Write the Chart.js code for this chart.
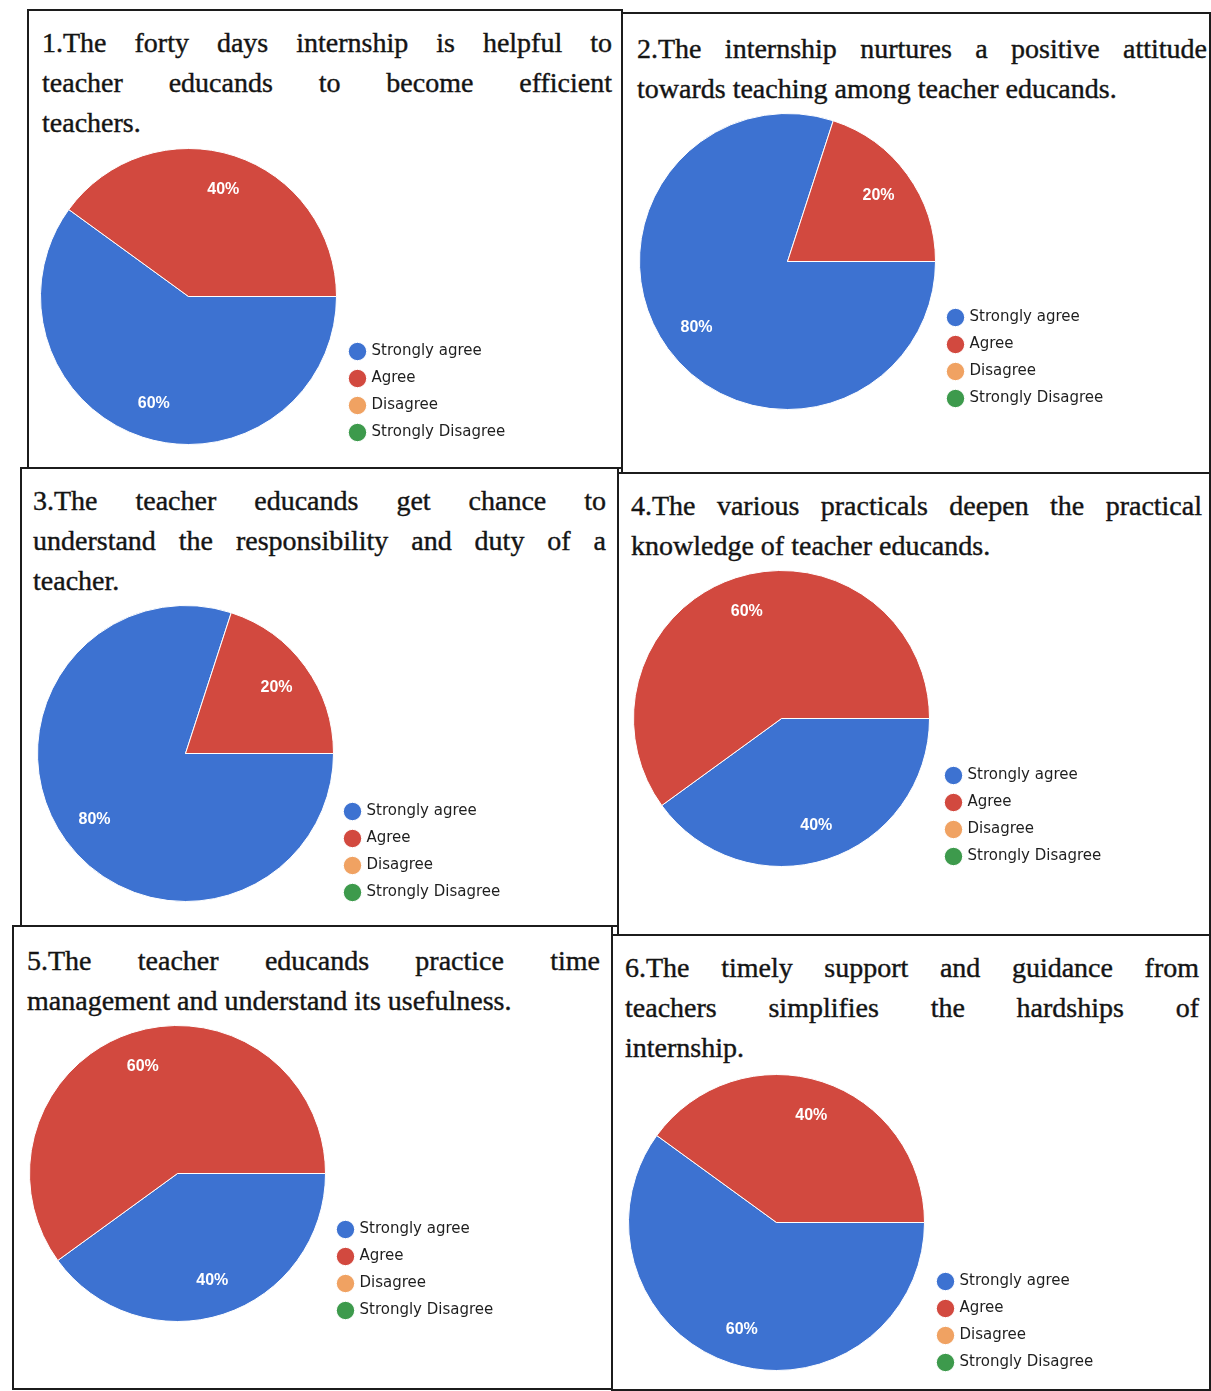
<!DOCTYPE html>
<html>
<head>
<meta charset="utf-8">
<script src="https://cdn.jsdelivr.net/npm/chart.js@4/dist/chart.umd.min.js"></script>
<style>
  html, body { margin: 0; padding: 0; background: #fff; }
  body { width: 1211px; height: 1391px; position: relative; overflow: hidden; }
  .cell { position: absolute; border: 2px solid #1c1c1c; box-sizing: border-box; }
  .title { position: absolute; font-family: "Liberation Serif", "Times New Roman", serif; font-size: 28px; line-height: 40px; color: #141414; -webkit-text-stroke: 0.4px #141414; }
  .title div { white-space: nowrap; }
  .title div.j { text-align: justify; text-align-last: justify; white-space: normal; }
  canvas { position: absolute; }
</style>
</head>
<body>
<script>
// ---------- data ----------
const categories = ["Strongly agree", "Agree", "Disagree", "Strongly Disagree"];
const q1Values = [60, 40, 0, 0];
const q2Values = [80, 20, 0, 0];
const q3Values = [80, 20, 0, 0];
const q4Values = [40, 60, 0, 0];
const q5Values = [40, 60, 0, 0];
const q6Values = [60, 40, 0, 0];
const q1Title = ["1.The forty days internship is helpful to", "teacher educands to become efficient", "teachers."];
const q2Title = ["2.The internship nurtures a positive attitude", "towards teaching among teacher educands."];
const q3Title = ["3.The teacher educands get chance to", "understand the responsibility and duty of a", "teacher."];
const q4Title = ["4.The various practicals deepen the practical", "knowledge of teacher educands."];
const q5Title = ["5.The teacher educands practice time", "management and understand its usefulness."];
const q6Title = ["6.The timely support and guidance from", "teachers simplifies the hardships of", "internship."];

// ---------- styles / layout ----------
const sliceColors = ["#3d72d1", "#d2493f", "#f0a262", "#3d9a4c"];
const panels = [
  { values: q1Values, title: q1Title, cell: [27, 9, 623, 469],   text: [42, 23, 570],  pie: [188, 296], legend: [357, 432] },
  { values: q2Values, title: q2Title, cell: [621, 12, 1211, 474], text: [637, 29, 570], pie: [787, 261], legend: [955, 398] },
  { values: q3Values, title: q3Title, cell: [20, 467, 619, 927],  text: [33, 481, 573], pie: [185, 753], legend: [352, 892] },
  { values: q4Values, title: q4Title, cell: [617, 472, 1211, 936], text: [631, 486, 571], pie: [781, 718], legend: [953, 856] },
  { values: q5Values, title: q5Title, cell: [12, 925, 613, 1390], text: [27, 941, 573], pie: [177, 1173], legend: [345, 1310] },
  { values: q6Values, title: q6Title, cell: [611, 934, 1211, 1391], text: [625, 948, 574], pie: [776, 1222], legend: [945, 1362] }
];

const FONT = 15, PAD = 12, BOX = 13, LEGW = 200, R = 148;

const pctLabels = {
  id: 'pctLabels',
  afterDatasetsDraw(chart) {
    const ctx = chart.ctx;
    const meta = chart.getDatasetMeta(0);
    const data = chart.data.datasets[0].data;
    const total = data.reduce((a, b) => a + b, 0);
    ctx.save();
    ctx.fillStyle = '#ffffff';
    ctx.font = 'bold 16px "Liberation Sans", Arial, sans-serif';
    ctx.textAlign = 'center';
    ctx.textBaseline = 'middle';
    meta.data.forEach((arc, i) => {
      if (!data[i]) return;
      const p = arc.getProps(['x', 'y', 'startAngle', 'endAngle', 'outerRadius'], true);
      const mid = (p.startAngle + p.endAngle) / 2;
      const rr = p.outerRadius * 0.76;
      ctx.fillText(Math.round(data[i] / total * 100) + '%', p.x + Math.cos(mid) * rr, p.y + Math.sin(mid) * rr);
    });
    ctx.restore();
  }
};

const fixedLegend = {
  id: 'fixedLegend',
  afterInit(chart) {
    const lg = chart.legend;
    if (!lg) return;
    const orig = lg.fit;
    lg.fit = function () { orig.call(this); this.width = LEGW; };
  }
};

panels.forEach((p) => {
  const [l, t, r, b] = p.cell;
  const cell = document.createElement('div');
  cell.className = 'cell';
  Object.assign(cell.style, { left: l + 'px', top: t + 'px', width: (r - l) + 'px', height: (b - t) + 'px' });
  document.body.appendChild(cell);

  const tt = document.createElement('div');
  tt.className = 'title';
  Object.assign(tt.style, { left: p.text[0] + 'px', top: p.text[1] + 'px', width: p.text[2] + 'px' });
  p.title.forEach((line, i) => {
    const d = document.createElement('div');
    d.textContent = line;
    if (i < p.title.length - 1) d.className = 'j';
    tt.appendChild(d);
  });
  document.body.appendChild(tt);

  const [cx, cy] = p.pie;
  const A = p.legend[0] - cx - PAD - BOX / 2;
  const B = p.legend[1] + (FONT + PAD) - FONT / 2 - cy;
  const cv = document.createElement('canvas');
  cv.width = Math.round(2 * A + LEGW);
  cv.height = Math.round(2 * B);
  cv.style.left = (cx - A) + 'px';
  cv.style.top = (cy - B) + 'px';
  document.body.appendChild(cv);

  new Chart(cv, {
    type: 'pie',
    data: {
      labels: categories,
      datasets: [{ data: p.values, backgroundColor: sliceColors, borderColor: '#ffffff', borderWidth: 1 }]
    },
    options: {
      responsive: false,
      animation: false,
      rotation: 90,
      radius: R,
      layout: { padding: 0 },
      plugins: {
        tooltip: { enabled: false },
        legend: {
          position: 'right',
          align: 'end',
          labels: {
            usePointStyle: true,
            pointStyle: 'circle',
            boxWidth: BOX,
            boxHeight: BOX,
            padding: PAD,
            color: '#1e1e1e',
            font: { size: FONT, family: '"DejaVu Sans", Arial, sans-serif' }
          }
        }
      }
    },
    plugins: [pctLabels, fixedLegend]
  });
});
</script>
</body>
</html>
